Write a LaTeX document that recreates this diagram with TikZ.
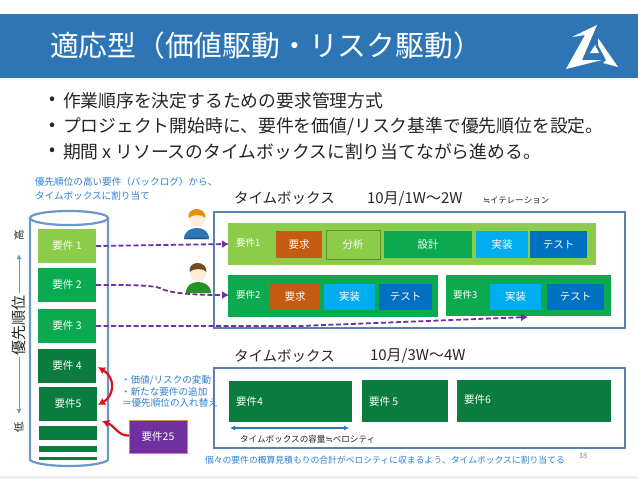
\documentclass[tikz,border=0pt]{standalone}
\usepackage{fontspec}
\setmainfont{Noto Sans CJK JP}
\newfontfamily\symfont{DejaVu Sans}
\usetikzlibrary{arrows.meta,positioning}
\newcommand{\fsz}[1]{\fontsize{#1}{#1}\selectfont}
\newcommand{\bx}[7]{%
  \pgfmathsetmacro{\bw}{#4-#2}\pgfmathsetmacro{\bh}{#5-#3}%
  \node[boxbase,#6,minimum width=\bw pt,minimum height=\bh pt,anchor=north west] (#1) at (#2,#3) {#7};}
\definecolor{hdr}{HTML}{2E75B6}
\definecolor{lg}{HTML}{8DCB4A}
\definecolor{mg}{HTML}{0BAA50}
\definecolor{dg}{HTML}{0A7D3E}
\definecolor{org}{HTML}{C55A11}
\definecolor{sky}{HTML}{00ADEF}
\definecolor{blu}{HTML}{0070C0}
\definecolor{pur}{HTML}{7030A0}
\definecolor{frm}{HTML}{5B82AE}
\definecolor{cyl}{HTML}{6B98C8}
\definecolor{note}{HTML}{2F80D0}
\definecolor{rd}{HTML}{DD1020}
\tikzset{
  boxbase/.style={inner sep=0pt,outer sep=0pt,text=white,font=\fsz{10.5}},
  light/.style={fill=lg},
  mid/.style={fill=mg},
  dark/.style={fill=dg},
  ora/.style={fill=org},
  skyb/.style={fill=sky},
  blub/.style={fill=blu},
  frame/.style={draw=frm,line width=1.4pt},
  plain/.style={inner sep=0pt,outer sep=0pt,anchor=west},
  notetext/.style={plain,text=note,font=\fsz{9.6}},
  head/.style={plain,text=black!85,font=\fsz{15}},
  bullettext/.style={plain,text=black!85,font=\fsz{17.8}},
  barlabel/.style={plain,text=white,font=\fsz{9.5}},
  planarrow/.style={pur,line width=1.8pt,dash pattern=on 5pt off 2.5pt,-{Latex[length=7pt,width=8pt,fill=pur]}},
  redarrow/.style={rd,line width=2.2pt},
  axisarrow/.style={cyl,line width=1pt,-{Latex[length=5pt,width=5pt]}},
}
\begin{document}
\begin{tikzpicture}[x=1pt,y=-1pt]
\useasboundingbox (0,0) rectangle (638,479);
\fill[white] (0,0) rectangle (638,479);
\fill[black!6] (0,476) rectangle (638,479);
% header
\fill[hdr] (0,14) rectangle (638,78);
\node[plain,text=white,font=\fsz{28.8}] (title) at (50,46) {適応型（価値駆動・リスク駆動）};
% logo
\fill[white] (572,37) -- (597,25) -- (582,60) -- (602,60) -- (566,69) -- (585,35) -- cycle;
\fill[white] (598,38) -- (618,67) -- (603,63) -- (606,60) -- (598,45) -- cycle;
\fill[white] (590,53) -- (595,45) -- (599,53) -- cycle;
% bullets
\node[bullettext] (bula) at (63,101) {作業順序を決定するための要求管理方式};
\node[bullettext] (bulb) at (63,127) {プロジェクト開始時に、要件を価値/リスク基準で優先順位を設定。};
\node[bullettext] (bulc) at (63,152) {期間 x リソースのタイムボックスに割り当てながら進める。};
\node[bullettext] (dota) at (49,101) {•};
\node[bullettext] (dotb) at (49,127) {•};
\node[bullettext] (dotc) at (49,152) {•};
% top-left note
\node[notetext] (n1) at (35,182) {優先順位の高い要件（バックログ）から、};
\node[notetext] (n2) at (35,196) {タイムボックスに割り当て};
% cylinder
\draw[cyl,line width=2.2pt,fill=white] (30,218) -- (30,460) .. controls (40,468) and (98,468) .. (108,460) -- (108,218);
\draw[cyl,line width=2.2pt,fill=white] (69,218) ellipse (39 and 7);
% requirements
\bx{r1}{38}{229}{96}{263}{light}{要件 1}
\bx{r2}{38}{268}{96}{302}{mid}{要件 2}
\bx{r3}{38}{309}{96}{343}{mid}{要件 3}
\bx{r4}{38}{349}{96}{383}{dark}{要件 4}
\bx{r5}{39}{387}{97}{421}{dark}{要件5}
\bx{s1}{39}{426}{97}{440}{dark}{}
\bx{s2}{39}{446}{97}{452}{dark}{}
\bx{s3}{39}{457}{97}{460}{dark}{}
% axis
\node[text=black!85,font=\fsz{15},rotate=90,inner sep=0pt] (axis) at (19,325) {優先順位};
\node[text=black!85,font=\fsz{10.5},rotate=90,inner sep=0pt] (hi) at (19,235) {高};
\node[text=black!85,font=\fsz{10.5},rotate=90,inner sep=0pt] (lo) at (19,427) {低};
\draw[axisarrow] (axis.east) ++(0,-2) -- (19,254);
\draw[axisarrow] (axis.west) ++(0,2) -- (19,414);
% persons
\fill[hdr] (184,239) .. controls (184,231) and (191,228) .. (197,228) .. controls (203,228) and (209,231) .. (209,239) -- cycle;
\fill[hdr!70!black] (184,239) .. controls (190,237) and (203,237) .. (209,239) -- cycle;
\fill[orange!15!white] (197,219) circle (8);
\fill[orange!75!yellow!90!black] (188.5,218) .. controls (187,206) and (206,206) .. (205.5,218) .. controls (202,214) and (193,214) .. (188.5,218) -- cycle;
\fill[green!50!black!85!white] (186,293) .. controls (186,285) and (192,282) .. (198,282) .. controls (204,282) and (211,285) .. (211,293) -- cycle;
\fill[orange!15!white] (198,273) circle (8);
\fill[brown!60!black] (189.5,272) .. controls (188,260) and (207,260) .. (206.5,272) .. controls (203,268) and (194,268) .. (189.5,272) -- cycle;
% time box 1
\node[head,font=\fsz{14.5}] (tb1t) at (234,198) {タイムボックス};
\node[head] (tb1d) at (367,199) {10月/1W～2W};
\node[plain,text=black!85,font=\fsz{8.5}] (iter) at (483,200) {{\symfont ≒}イテレーション};
\bx{tb1}{214}{212}{625}{328}{frame,fill=white}{}
\bx{b1}{228}{223}{596}{265}{light}{}
\node[barlabel] (b1t) at (236,243) {要件1};
\bx{b1a}{276}{231}{322}{258}{ora}{要求}
\bx{b1b}{326}{230}{380}{259}{light,draw=lg!70!black,line width=1pt}{分析}
\bx{b1c}{384}{231}{472}{258}{mid}{設計}
\bx{b1d}{476}{231}{528}{258}{skyb}{実装}
\bx{b1e}{530}{231}{587}{258}{blub}{テスト}
\bx{b2}{228}{275}{438}{317}{mid}{}
\node[barlabel] (b2t) at (236,295) {要件2};
\bx{b2a}{270}{284}{320}{310}{ora}{要求}
\bx{b2b}{324}{284}{375}{310}{skyb}{実装}
\bx{b2c}{379}{284}{432}{310}{blub}{テスト}
\bx{b3}{446}{275}{611}{316}{mid}{}
\node[barlabel] (b3t) at (453,295) {要件3};
\bx{b3a}{490}{284}{541}{310}{skyb}{実装}
\bx{b3b}{547}{284}{604}{310}{blub}{テスト}
% planning arrows
\coordinate (e1) at (229,244);
\coordinate (e2) at (229,295);
\coordinate (e3) at (528,317);
\draw[planarrow] (r1.east) -- (e1);
\draw[planarrow] (r2.east) .. controls (130,285) and (150,285) .. (160,288) .. controls (170,294) and (200,295) .. (e2);
\draw[planarrow] (r3.east) -- (300,326) -- (e3);
% time box 2
\node[head,font=\fsz{14.5}] (tb2t) at (234,356) {タイムボックス};
\node[head] (tb2d) at (370,356) {10月/3W～4W};
\bx{tb2}{214}{368}{625}{448}{frame,fill=white}{}
\bx{c4}{229}{381}{352}{422}{dark}{}
\bx{c5}{362}{380}{448}{422}{dark}{}
\bx{c6}{457}{380}{611}{422}{dark}{}
\node[plain,text=white,font=\fsz{10.5}] (c4t) at (236,402) {要件4};
\node[plain,text=white,font=\fsz{10.5}] (c5t) at (369,402) {要件 5};
\node[plain,text=white,font=\fsz{10.5}] (c6t) at (464,400) {要件6};
\coordinate (va) at (230,428);
\coordinate (vb) at (349,428);
\draw[hdr,line width=1.2pt,{Latex[length=5pt,width=5pt]}-{Latex[length=5pt,width=5pt]}] (va) -- (vb);
\node[plain,text=black!85,font=\fsz{8.6}] (cap) at (240,439) {タイムボックスの容量{\symfont ≒}ベロシティ};
\node[notetext,font=\fsz{8.8}] (foot) at (205,460) {個々の要件の概算見積もりの合計がベロシティに収まるよう、タイムボックスに割り当てる};
\node[plain,text=black!45,font=\fsz{7.5}] (pg) at (579,456) {18};
% change notes
\node[notetext] (k1) at (121,380) {・価値/リスクの変動};
\node[notetext] (k2) at (121,392) {・新たな要件の追加};
\node[notetext] (k3) at (122,403) {＝優先順位の入れ替え};
% new requirement
\bx{r25}{129}{420}{187}{453}{fill=pur,draw=org!70!white,line width=1pt}{要件25}
\draw[redarrow,{Latex[length=7pt,width=8pt]}-{Latex[length=7pt,width=8pt]}] (98,367) .. controls (116,378) and (114,396) .. (98,405);
\draw[redarrow,-{Latex[length=7pt,width=8pt]}] (r25.west) ++(0,-1) .. controls (118,436) and (115,426) .. (102,421);
\end{tikzpicture}
\end{document}
